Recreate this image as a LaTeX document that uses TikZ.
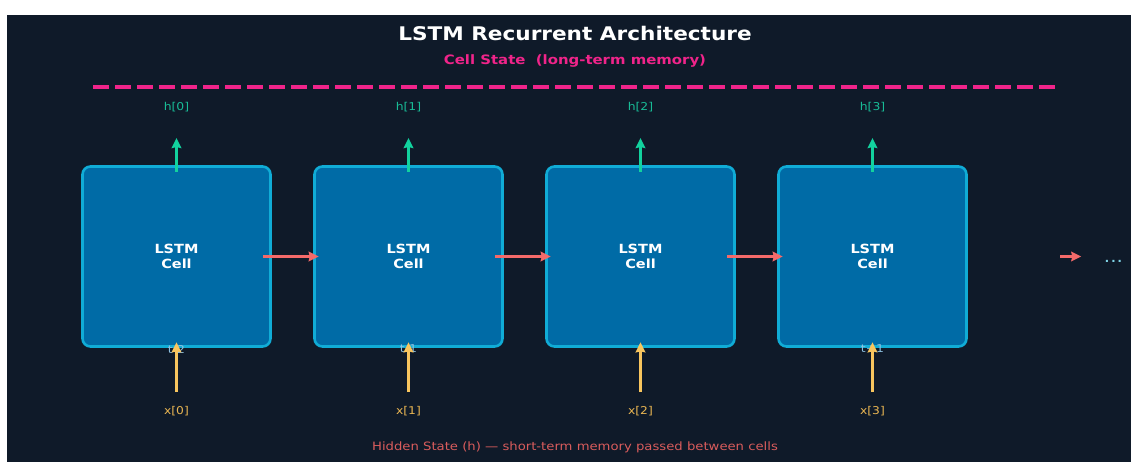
\documentclass[tikz,border=0pt]{standalone}
\usepackage{fontspec}
\setmainfont{DejaVu Sans}
\usetikzlibrary{arrows.meta,calc}

\definecolor{bg}{HTML}{0F1A29}
\definecolor{cellfill}{HTML}{006BA6}
\definecolor{cellline}{HTML}{10ACD6}
\definecolor{statepink}{HTML}{F0248A}
\definecolor{hgreen}{HTML}{12D29E}
\definecolor{hgreentext}{HTML}{18BC96}
\definecolor{xyellow}{HTML}{F8C55E}
\definecolor{xyellowtext}{HTML}{EAB652}
\definecolor{hred}{HTML}{F46A6A}
\definecolor{hredtext}{HTML}{D95C5C}
\definecolor{tblue}{HTML}{8CC0E0}
\definecolor{dotcyan}{HTML}{7FD3E6}

% glyphs are set slightly condensed in height
\newcommand\sqz[1]{\scalebox{1}[0.87]{#1}}

\tikzset{
  cellbox/.style={draw=cellline, fill=cellfill, line width=2.6pt,
    rounded corners=8pt, minimum width=188pt, minimum height=180pt,
    inner sep=0pt, align=center, text=white,
    font=\bfseries\fontsize{14.5}{14.6}\selectfont},
  hlab/.style={text=hgreentext, inner sep=1pt, font=\fontsize{12.4}{14}\selectfont},
  xlab/.style={text=xyellowtext, inner sep=1pt, font=\fontsize{12.3}{14}\selectfont},
  tlab/.style={text=tblue, inner sep=1pt, font=\fontsize{12.4}{13}\selectfont},
  tip/.style={-{Stealth[length=10pt,width=9.5pt,inset=1pt]}},
  harrow/.style={tip, draw=hgreen, line width=2.4pt},
  xarrow/.style={tip, draw=xyellow, line width=2.4pt},
  rarrow/.style={tip, draw=hred, line width=2.4pt},
  cellstate/.style={draw=statepink, line width=3.8pt, dash pattern=on 15.7pt off 6.3pt},
}

\begin{document}
\begin{tikzpicture}[x=1pt, y=-1pt]
  \useasboundingbox (0,0) rectangle (1131,462);
  \fill[white] (0,0) rectangle (1131,462);
  \fill[bg] (7,15) rectangle (1131,462);

  % titles
  \node[text=white, font=\bfseries\fontsize{21.6}{24}\selectfont] (title) at (575,33)
    {\sqz{LSTM Recurrent Architecture}};
  \node[text=statepink, font=\bfseries\fontsize{14.9}{17}\selectfont] (subtitle) at (575,61)
    {\sqz{Cell State\ \ (long-term memory)}};

  % long-term memory line
  \coordinate (csL) at (93,86.7);
  \coordinate (csR) at (1055,86.7);
  \draw[cellstate] (csL) -- (csR);

  % cells, labels and their inputs / outputs
  \foreach \i/\x/\t in {0/176.5/t-2, 1/408.5/t-1, 2/640.5/t, 3/872.5/t+1} {
    \node[cellbox] (c\i) at (\x,256.5) {\sqz{LSTM}\\\sqz{Cell}};
    \node[hlab] (h\i) at (\x,107) {\sqz{h[\i]}};
    \node[xlab] (x\i) at (\x,411) {\sqz{x[\i]}};
    \node[tlab] (t\i) at (\x,349) {\sqz{\t}};
  }
  \foreach \i in {0,1,2,3} {
    \draw[harrow] ($(c\i.north)+(0,6.5)$) -- ($(h\i)+(0,31)$);
    \draw[xarrow] ($(x\i)+(0,-19)$) -- ($(c\i.south)+(0,-5.5)$);
  }

  % hidden state passed along the chain
  \foreach \i/\j in {0/1, 1/2, 2/3} {
    \draw[rarrow] ($(c\i.east)+(-8.5,0)$) -- ($(c\j.west)+(5.5,0)$);
  }
  \node[text=dotcyan, inner sep=0pt, font=\fontsize{20}{22}\selectfont] (dots) at (1113.5,261.3) {\sqz{...}};
  \coordinate (hout) at ($(c3.east)+(92.5,0)$);
  \coordinate (hend) at ($(c3.east)+(113.5,0)$);
  \draw[rarrow] (hout) -- (hend);

  % caption
  \node[text=hredtext, font=\fontsize{13.2}{15}\selectfont] (caption) at (575,447)
    {\sqz{Hidden State (h) — short-term memory passed between cells}};
\end{tikzpicture}
\end{document}
